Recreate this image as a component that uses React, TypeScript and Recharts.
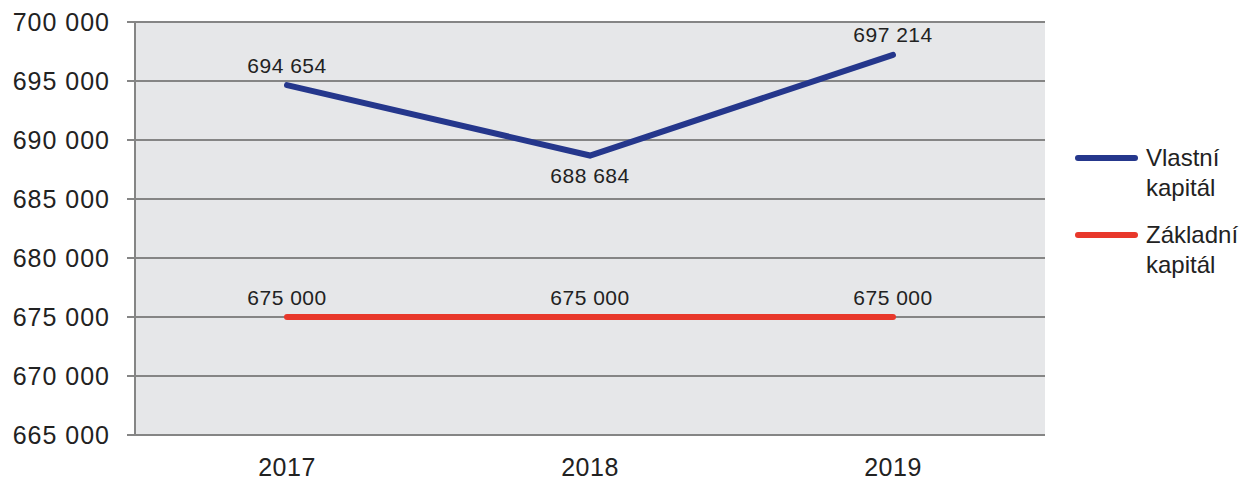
import React from "react";
import {
  LineChart,
  Line,
  XAxis,
  YAxis,
  CartesianGrid,
  Legend,
  LabelList,
} from "recharts";

const years = ["2017", "2018", "2019"];
const vlastniKapital = [694654, 688684, 697214];
const zakladniKapital = [675000, 675000, 675000];
const yTicks = [665000, 670000, 675000, 680000, 685000, 690000, 695000, 700000];

// position of each value label: above or below the point
const vlastniLabelPos = ["top", "bottom", "top"];
const zakladniLabelPos = ["top", "top", "top"];

const data = years.map((year, i) => ({
  year,
  vlastni: vlastniKapital[i],
  zakladni: zakladniKapital[i],
}));

const BLUE = "#25378c";
const RED = "#e8382b";
const FONT = "'Liberation Sans', Arial, sans-serif";

const fmt = (v: number) =>
  `${Math.floor(v / 1000)} ${String(v % 1000).padStart(3, "0")}`;

const makeLabel =
  (positions: string[]) =>
  (props: any) => {
    const { x, y, value, index } = props;
    const below = positions[index] === "bottom";
    return (
      <text
        x={x}
        y={below ? y + 20 : y - 20}
        textAnchor="middle"
        dominantBaseline="central"
        fontSize={21}
        letterSpacing={0.5}
        fontFamily={FONT}
        fill="#222"
      >
        {fmt(value)}
      </text>
    );
  };

const legendItems = [
  { color: BLUE, lines: ["Vlastní", "kapitál"] },
  { color: RED, lines: ["Základní", "kapitál"] },
];

const renderLegend = () => (
  <div style={{ fontFamily: FONT, fontSize: 24, color: "#222" }}>
    {legendItems.map((item) => (
      <div
        key={item.lines[0]}
        style={{ display: "flex", alignItems: "flex-start", marginBottom: 17 }}
      >
        <svg width={70} height={30} style={{ flexShrink: 0 }}>
          <line
            x1={4}
            y1={15}
            x2={61}
            y2={15}
            stroke={item.color}
            strokeWidth={6}
            strokeLinecap="round"
          />
        </svg>
        <div style={{ lineHeight: "30px", marginLeft: 2 }}>
          {item.lines.map((l) => (
            <div key={l}>{l}</div>
          ))}
        </div>
      </div>
    ))}
  </div>
);

const App: React.FC = () => (
  <div style={{ position: "absolute", left: 0, top: 0, background: "#fff" }}>
    <LineChart
      width={1247}
      height={481}
      data={data}
      margin={{ top: 22, right: 29, left: 0, bottom: 0 }}
    >
      <CartesianGrid
        vertical={false}
        stroke="#858585"
        strokeWidth={2}
        fill="#e6e7e9"
        fillOpacity={1}
      />
      <XAxis
        dataKey="year"
        axisLine={false}
        tickLine={false}
        tickSize={0}
        tickMargin={23}
        height={46}
        padding={{ left: 152, right: 152 }}
        tick={{ fontSize: 25, fill: "#222", fontFamily: FONT, letterSpacing: 0.5 }}
      />
      <YAxis
        width={135}
        domain={[665000, 700000]}
        ticks={yTicks}
        interval={0}
        tickFormatter={fmt}
        axisLine={{ stroke: "#858585", strokeWidth: 2 }}
        tickLine={{ stroke: "#858585", strokeWidth: 2 }}
        tickSize={8}
        tickMargin={17}
        tick={{ fontSize: 25, fill: "#222", fontFamily: FONT, letterSpacing: 1 }}
      />
      <Legend
        layout="vertical"
        align="right"
        verticalAlign="top"
        content={renderLegend}
        wrapperStyle={{ left: 1074, top: 143, width: 173 }}
      />
      <Line
        dataKey="vlastni"
        name="Vlastní kapitál"
        stroke={BLUE}
        strokeWidth={6}
        strokeLinecap="round"
        strokeLinejoin="miter"
        dot={false}
        activeDot={false}
        isAnimationActive={false}
      >
        <LabelList dataKey="vlastni" content={makeLabel(vlastniLabelPos)} />
      </Line>
      <Line
        dataKey="zakladni"
        name="Základní kapitál"
        stroke={RED}
        strokeWidth={6}
        strokeLinecap="round"
        dot={false}
        activeDot={false}
        isAnimationActive={false}
      >
        <LabelList dataKey="zakladni" content={makeLabel(zakladniLabelPos)} />
      </Line>
    </LineChart>
  </div>
);

export default App;
